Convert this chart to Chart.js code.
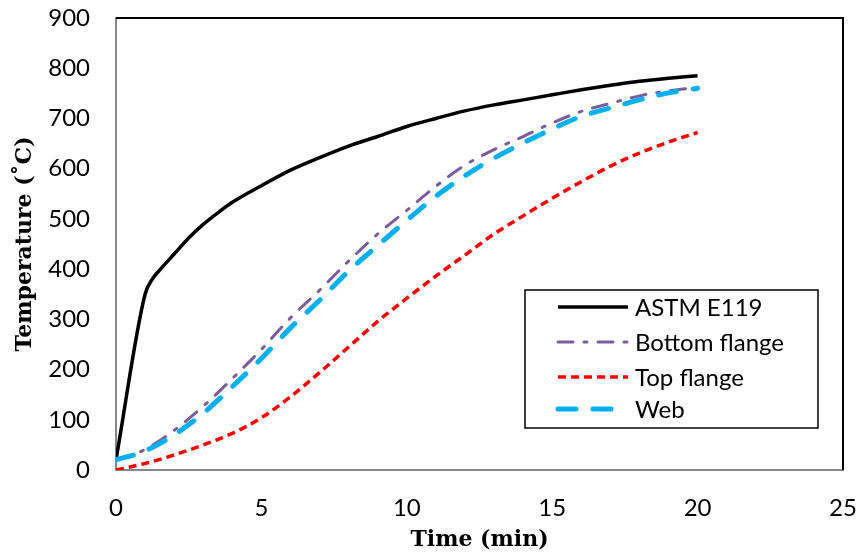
<!DOCTYPE html>
<html>
<head>
<meta charset="utf-8">
<script src="https://cdn.jsdelivr.net/npm/chart.js@4/dist/chart.umd.min.js"></script>
<style>
html,body{margin:0;padding:0;background:#fff;}
#wrap{width:860px;height:559px;position:relative;}
</style>
</head>
<body>
<div id="wrap"><canvas id="c" width="860" height="559"></canvas></div>
<script>
const seriesLabels = ["ASTM E119", "Bottom flange", "Top flange", "Web"];
const astmTime = [0, 1, 1.25, 1.5, 2, 2.5, 3, 3.5, 4, 5, 6, 7, 8, 9, 10, 11, 12, 13, 14, 15, 16, 17, 18, 19, 20];
const astmTemp = [20, 350, 380, 398, 430, 462, 489, 512, 533, 566, 597, 622, 645, 664, 684, 700, 715, 727, 737, 747, 757, 766, 774, 780, 785];
const memberTime = [0, 1, 2, 3, 4, 5, 6, 7, 8, 9, 10, 11, 12, 13, 14, 15, 16, 17, 18, 19, 20];
const bottomFlange = [20, 41, 79, 127, 182, 240, 303, 358, 416, 470, 517, 565, 607, 638, 664, 691, 714, 730, 745, 755, 762];
const topFlange = [0, 13, 30, 50, 73, 104, 146, 194, 245, 296, 342, 386, 428, 470, 506, 541, 574, 605, 631, 653, 672];
const web = [20, 38, 70, 113, 166, 222, 283, 338, 396, 447, 497, 545, 586, 621, 651, 679, 704, 721, 737, 751, 760];
const xTicks = [0, 5, 10, 15, 20, 25];
const yTicks = [0, 100, 200, 300, 400, 500, 600, 700, 800, 900];

const pts = (xs, ys) => xs.map((x, i) => ({x: x, y: ys[i]}));

const legendPlugin = {
  id: 'boxLegend',
  afterDatasetsDraw(chart) {
    const ctx = chart.ctx;
    const ca = chart.chartArea;
    const bx = ca.right - 318, by = ca.bottom - 180, bw = 293, bh = 138;
    ctx.save();
    ctx.fillStyle = '#fff';
    ctx.fillRect(bx, by, bw, bh);
    ctx.strokeStyle = '#000';
    ctx.lineWidth = 1.5;
    ctx.strokeRect(bx, by, bw, bh);
    const rowY = [17, 52, 87, 119];
    chart.data.datasets.forEach((ds, i) => {
      const y = by + rowY[i];
      ctx.beginPath();
      ctx.strokeStyle = ds.borderColor;
      ctx.lineWidth = ds.borderWidth;
      ctx.lineCap = ds.borderCapStyle || 'butt';
      ctx.setLineDash(ds.borderDash || []);
      ctx.moveTo(bx + 33, y);
      ctx.lineTo(bx + 103, y);
      ctx.stroke();
      ctx.setLineDash([]);
      ctx.fillStyle = '#000';
      ctx.font = '24px Lato';
      ctx.textBaseline = 'middle';
      ctx.textAlign = 'left';
      ctx.fillText(ds.label, bx + 110, y + 1);
    });
    ctx.restore();
  }
};

const frameBorder = {
  id: 'frameBorder',
  beforeDatasetsDraw(chart) {
    const ctx = chart.ctx;
    const ca = chart.chartArea;
    ctx.save();
    ctx.strokeStyle = '#000';
    ctx.lineWidth = 2;
    ctx.beginPath();
    ctx.moveTo(ca.left, ca.top);
    ctx.lineTo(ca.right, ca.top);
    ctx.lineTo(ca.right, ca.bottom);
    ctx.stroke();
    ctx.restore();
  }
};

new Chart(document.getElementById('c'), {
  type: 'line',
  data: {
    datasets: [
      {label: seriesLabels[0], data: pts(astmTime, astmTemp), borderColor: '#000000', borderWidth: 3.5, pointRadius: 0, cubicInterpolationMode: 'monotone', order: 3, fill: false},
      {label: seriesLabels[1], data: pts(memberTime, bottomFlange), borderColor: '#7A5D9A', borderWidth: 3, borderDash: [15, 11, 3, 11], borderCapStyle: 'round', pointRadius: 0, cubicInterpolationMode: 'monotone', order: 2, fill: false},
      {label: seriesLabels[2], data: pts(memberTime, topFlange), borderColor: '#FF0000', borderWidth: 3.5, borderDash: [8, 5], borderCapStyle: 'butt', pointRadius: 0, cubicInterpolationMode: 'monotone', order: 1, fill: false},
      {label: seriesLabels[3], data: pts(memberTime, web), borderColor: '#00B0F0', borderWidth: 5, borderDash: [18, 17], borderCapStyle: 'round', pointRadius: 0, cubicInterpolationMode: 'monotone', order: 0, fill: false}
    ]
  },
  options: {
    responsive: false,
    animation: false,
    layout: {autoPadding: false, padding: {top: 18, right: 17, left: 0, bottom: 0}},
    plugins: {legend: {display: false}, tooltip: {enabled: false}},
    scales: {
      x: {
        type: 'linear', min: 0, max: 25,
        afterBuildTicks: (s) => { s.ticks = xTicks.map(v => ({value: v})); },
        afterFit: (s) => { s.height = 89; s.paddingLeft = 0; s.paddingRight = 0; },
        grid: {display: false, drawTicks: false},
        border: {display: true, color: '#878787', width: 2},
        ticks: {padding: 24, color: '#000', font: {family: 'Lato', size: 24}, maxRotation: 0},
        title: {display: true, text: 'Time (min)', color: '#000', font: {family: 'DejaVu Serif', size: 22, weight: 'bold'}, padding: {top: 0, bottom: 6}}
      },
      y: {
        type: 'linear', min: 0, max: 900,
        afterBuildTicks: (s) => { s.ticks = yTicks.map(v => ({value: v})); },
        afterFit: (s) => { s.width = 116; s.paddingTop = 0; s.paddingBottom = 0; },
        grid: {display: false, drawTicks: false},
        border: {display: true, color: '#878787', width: 2},
        ticks: {padding: 26, color: '#000', font: {family: 'Lato', size: 24}},
        title: {display: true, text: 'Temperature (˚C)', color: '#000', font: {family: 'DejaVu Serif', size: 22, weight: 'bold'}, padding: {top: 12, bottom: 0}}
      }
    }
  },
  plugins: [frameBorder, legendPlugin]
});
</script>
</body>
</html>
